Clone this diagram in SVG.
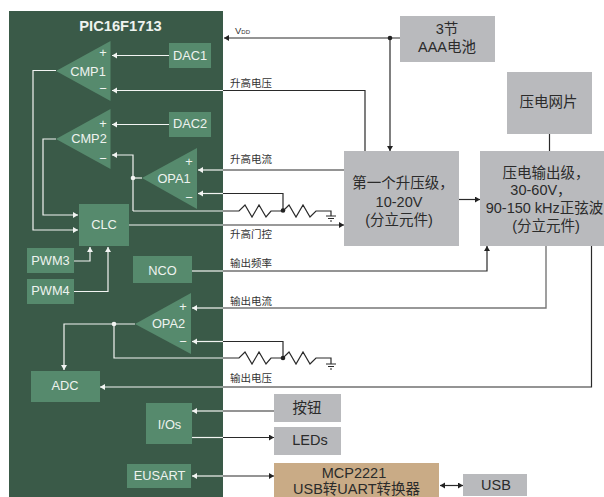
<svg xmlns="http://www.w3.org/2000/svg" width="604" height="497" viewBox="0 0 604 497">
<style>
text{font-family:"Liberation Sans","Noto Sans CJK SC",sans-serif;text-anchor:middle}
.g{fill:#568a6d}.b{fill:#b9babd}
.tw{fill:#eef3ef;font-size:12.800px}
.td{fill:#2b2b2b;font-size:14.500px}
.lab{fill:#333;font-size:10.500px;text-anchor:start}
.w,.d,.m{fill:none;stroke-width:1.200}
.w{stroke:#f2f4f2}.d{stroke:#2a2a2a}.m{stroke:#777;stroke-width:1.400}
.ah{fill:#f2f4f2}.ad{fill:#222}
</style>
<defs>
<marker id="aw" markerUnits="userSpaceOnUse" markerWidth="6" markerHeight="7" refX="5" refY="3" orient="auto-start-reverse"><path class="ah" d="M0 0L5 3L0 6Z"/></marker>
<marker id="ad" markerUnits="userSpaceOnUse" markerWidth="6" markerHeight="7" refX="5" refY="3" orient="auto-start-reverse"><path class="ad" d="M0 0L5 3L0 6Z"/></marker>
</defs>
<rect id="panel" x="9" y="11" width="214" height="486" fill="#3a5a48"/>
<g id="connectors">
<path class="d" d="M400 38H224" marker-end="url(#ad)"/>
<path class="d" d="M390 38V151" marker-end="url(#ad)"/>
<path class="d" d="M365 151V90.500H223"/><path class="w" d="M223 90.500H112" marker-end="url(#aw)"/>
<path class="w" d="M169 55.500H112" marker-end="url(#aw)"/>
<path class="w" d="M169 124.500H112" marker-end="url(#aw)"/>
<path class="d" d="M344 170H223"/><path class="w" d="M223 170H198" marker-end="url(#aw)"/>
<path class="d" d="M283 210V193.500H223"/><path class="w" d="M223 193.500H198" marker-end="url(#aw)"/>
<path class="w" d="M142 178H133"/>
<path class="w" d="M133 211V155H112" marker-end="url(#aw)"/>
<path class="w" d="M133 211H223"/>
<path class="d" d="M223 211H239L245 205L252 217L259 205L266 217L271 211H283L289 205L296 217L303 205L310 217L316 211H331V216"/>
<path class="d" d="M326 216H336M328 218.500H334M330 221H332"/>
<path class="w" d="M129 225H223"/><path class="m" d="M223 225H344" marker-end="url(#ad)"/>
<path class="w" d="M56 70.500H33V230H78" marker-end="url(#aw)"/>
<path class="w" d="M56 139H43V215H78" marker-end="url(#aw)"/>
<path class="w" d="M73 261H90V247" marker-end="url(#aw)"/>
<path class="w" d="M73 291.500H108V247" marker-end="url(#aw)"/>
<path class="w" d="M192 271H223"/><path class="d" d="M223 271H487V246" marker-end="url(#ad)"/>
<path class="m" d="M546 246V308H223"/><path class="w" d="M223 308H192" marker-end="url(#aw)"/>
<path class="d" d="M283 358V341.500H223"/><path class="w" d="M223 341.500H192" marker-end="url(#aw)"/>
<path class="w" d="M135 324H64V370" marker-end="url(#aw)"/>
<path class="w" d="M114 324V358H223"/>
<path class="d" d="M223 358H239L245 352L252 364L259 352L266 364L271 358H283L289 352L296 364L303 352L310 364L316 358H331V364"/>
<path class="d" d="M326 364H336M328 366.500H334M330 369H332"/>
<path class="d" d="M591.500 246V387H223"/><path class="w" d="M223 387H100" marker-end="url(#aw)"/>
<path class="d" d="M274 411H223"/><path class="w" d="M223 411H192" marker-end="url(#aw)"/>
<path class="w" d="M192 437.500H223"/><path class="d" d="M223 437.500H274" marker-end="url(#ad)"/>
<path class="w" d="M223 476H192" marker-end="url(#aw)"/><path class="d" d="M223 476H274" marker-end="url(#ad)"/>
<path class="d" d="M440 485.500H463" marker-start="url(#ad)" marker-end="url(#ad)"/>
<path class="d" d="M549.500 134V151"/>
<path class="d" d="M459 199.500H480" marker-end="url(#ad)"/>
<circle cx="390" cy="38" r="2.300" class="ad"/>
<circle cx="133" cy="178" r="2.300" class="ah"/>
<circle cx="114" cy="324" r="2.300" class="ah"/>
<circle cx="283" cy="210.500" r="2.300" class="ad"/>
<circle cx="283" cy="358" r="2.300" class="ad"/>
</g>
<g id="labels">
<text x="235" y="34" class="lab" style="font-size:9.500px">V<tspan font-size="6">DD</tspan></text>
<text x="230" y="87" class="lab">升高电压</text>
<text x="230" y="163" class="lab">升高电流</text>
<text x="230" y="238" class="lab">升高门控</text>
<text x="230" y="267" class="lab">输出频率</text>
<text x="230" y="305" class="lab">输出电流</text>
<text x="230" y="382" class="lab">输出电压</text>
</g>
<text id="title" x="120.500" y="31" fill="#eef3ef" font-size="14.700" font-weight="bold">PIC16F1713</text>
<g id="dac1"><rect class="g" x="169" y="43" width="42" height="25"/><text class="tw" x="190" y="60">DAC1</text></g>
<g id="dac2"><rect class="g" x="169" y="112" width="42" height="25"/><text class="tw" x="190" y="128">DAC2</text></g>
<g id="cmp1"><path class="g" d="M56 71L110.500 41V101Z"/><text class="tw" x="88" y="76">CMP1</text><text class="tw" x="103" y="57">+</text><text class="tw" x="103" y="93">−</text></g>
<g id="cmp2"><path class="g" d="M56 139L110.500 109V169Z"/><text class="tw" x="89" y="143">CMP2</text><text class="tw" x="103" y="128">+</text><text class="tw" x="103" y="163">−</text></g>
<g id="opa1"><path class="g" d="M142 178L197 148V209Z"/><text class="tw" x="174" y="183">OPA1</text><text class="tw" x="189" y="166">+</text><text class="tw" x="189" y="202">−</text></g>
<g id="clc"><rect class="g" x="79" y="204" width="50" height="42"/><text class="tw" x="104" y="229">CLC</text></g>
<g id="pwm3"><rect class="g" x="27" y="248" width="47" height="25"/><text class="tw" x="50.500" y="265">PWM3</text></g>
<g id="pwm4"><rect class="g" x="27" y="279" width="47" height="25"/><text class="tw" x="50.500" y="295">PWM4</text></g>
<g id="nco"><rect class="g" x="133" y="256" width="59" height="27"/><text class="tw" x="162.500" y="275">NCO</text></g>
<g id="opa2"><path class="g" d="M135 324L191 293V354Z"/><text class="tw" x="168.500" y="328">OPA2</text><text class="tw" x="183" y="311">+</text><text class="tw" x="183" y="346">−</text></g>
<g id="adc"><rect class="g" x="31" y="371" width="69" height="31"/><text class="tw" x="65" y="390">ADC</text></g>
<g id="ios"><rect class="g" x="146" y="403" width="46" height="41"/><text class="tw" x="169.500" y="429">I/Os</text></g>
<g id="eusart"><rect class="g" x="127" y="464" width="64" height="24"/><text class="tw" x="159.500" y="480">EUSART</text></g>
<g id="battery"><rect class="b" x="400" y="16" width="95" height="46"/><text class="td" x="447" y="34">3节</text><text class="td" x="447" y="52">AAA电池</text></g>
<g id="piezo"><rect class="b" x="507" y="72" width="85" height="62"/><text class="td" x="548.500" y="107">压电网片</text></g>
<g id="boost"><rect class="b" x="344" y="151" width="115" height="95"/><text class="td" x="403" y="188">第一个升压级，</text><text class="td" x="399" y="207">10-20V</text><text class="td" x="399" y="225">(分立元件)</text></g>
<g id="output"><rect class="b" x="480" y="151" width="124" height="95"/><text class="td" x="546" y="178">压电输出级，</text><text class="td" x="541" y="195">30-60V，</text><text class="td" x="544.500" y="213">90-150 kHz正弦波</text><text class="td" x="546" y="231">(分立元件)</text></g>
<g id="button"><rect class="b" x="274" y="394" width="67" height="28"/><text class="td" x="307" y="413">按钮</text></g>
<g id="leds"><rect class="b" x="274" y="427" width="67" height="28"/><text class="td" x="310" y="445">LEDs</text></g>
<g id="mcp"><rect x="274" y="463" width="165" height="34" fill="#c9ab86"/><text class="td" x="354" y="478">MCP2221</text><text class="td" x="356.500" y="494">USB转UART转换器</text></g>
<g id="usb"><rect class="b" x="463" y="474" width="64" height="22"/><text class="td" x="496" y="490">USB</text></g>
</svg>
